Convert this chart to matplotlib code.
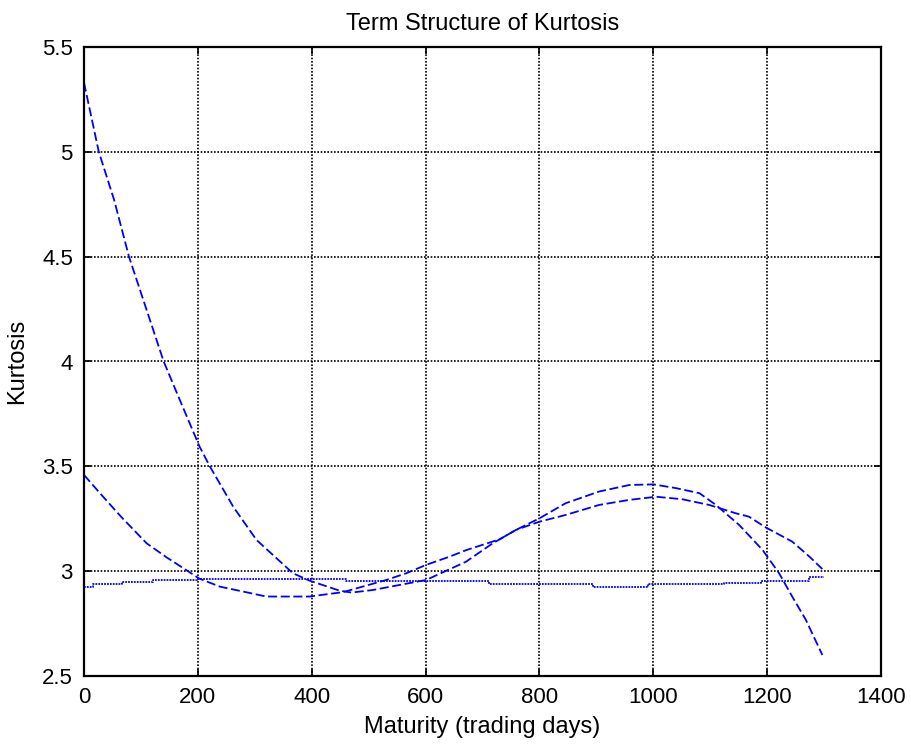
import numpy as np
import matplotlib
matplotlib.use('Agg')
import matplotlib.pyplot as plt
import matplotlib.ticker as ticker

plt.rcParams['font.family'] = ['Liberation Sans', 'DejaVu Sans']

# curve 1: steep start, high peak
mat_a = [0, 26, 53, 79, 140, 167, 203, 221, 262, 303, 367, 396, 449, 470, 507, 554, 601,
         671, 718, 759, 800, 846, 905, 958, 1000, 1040, 1081, 1110, 1151, 1192, 1221,
         1244, 1268, 1297]
kurt_a = [5.33, 5.0, 4.77, 4.5, 4.0, 3.825, 3.594, 3.5, 3.308, 3.149, 2.99, 2.955, 2.907,
          2.898, 2.91, 2.934, 2.958, 3.045, 3.133, 3.197, 3.252, 3.324, 3.38, 3.411, 3.414,
          3.396, 3.372, 3.316, 3.22, 3.101, 2.99, 2.879, 2.768, 2.60]

# curve 2: moderate start, lower peak
mat_b = [0, 28, 66, 110, 145, 203, 239, 279, 320, 396, 455, 531, 566, 601, 642, 671, 730,
         759, 800, 846, 905, 958, 1005, 1051, 1098, 1145, 1168, 1198, 1244, 1274, 1297]
kurt_b = [3.459, 3.372, 3.257, 3.133, 3.066, 2.964, 2.926, 2.903, 2.879, 2.879, 2.90, 2.958,
          2.99, 3.03, 3.069, 3.10, 3.152, 3.197, 3.236, 3.268, 3.316, 3.34, 3.355, 3.343,
          3.316, 3.276, 3.26, 3.208, 3.141, 3.07, 3.01]

# curve 3: nearly flat, dotted
mat_c = [0, 16, 66, 122, 198, 461, 712, 894, 990, 1125, 1189, 1274, 1300]
kurt_c = [2.926, 2.938, 2.948, 2.956, 2.964, 2.954, 2.938, 2.926, 2.937, 2.945, 2.954,
          2.974, 2.974]

fig = plt.figure(figsize=(9.12, 7.47), dpi=100)
ax = fig.add_axes([84 / 912, 1 - 676 / 747, 797 / 912, 629 / 747])

ax.plot(mat_a, kurt_a, color='b', lw=1.3, dashes=(5, 2))
ax.plot(mat_b, kurt_b, color='b', lw=1.3, dashes=(5, 2))
ax.plot(mat_c, kurt_c, color='b', lw=1.3, linestyle=(0, (1, 0.6)), drawstyle='steps-post')

ax.set_xlim(0, 1400)
ax.set_ylim(2.5, 5.5)
ax.xaxis.set_major_locator(ticker.MultipleLocator(200))
ax.yaxis.set_major_locator(ticker.MultipleLocator(0.5))
ax.yaxis.set_major_formatter(ticker.FormatStrFormatter('%g'))

ax.grid(True, color='k', linestyle=(0, (1, 1)), linewidth=1.2)
ax.tick_params(direction='in', top=True, right=True, length=5, width=1.2,
               labelsize=16, pad=8)
for s in ax.spines.values():
    s.set_linewidth(1.6)

ax.set_xlabel('Maturity (trading days)', fontsize=17, labelpad=6)
ax.set_ylabel('Kurtosis', fontsize=17, labelpad=10)
ax.set_title('Term Structure of Kurtosis', fontsize=17, pad=12)

fig.savefig('out.png', dpi=100)
